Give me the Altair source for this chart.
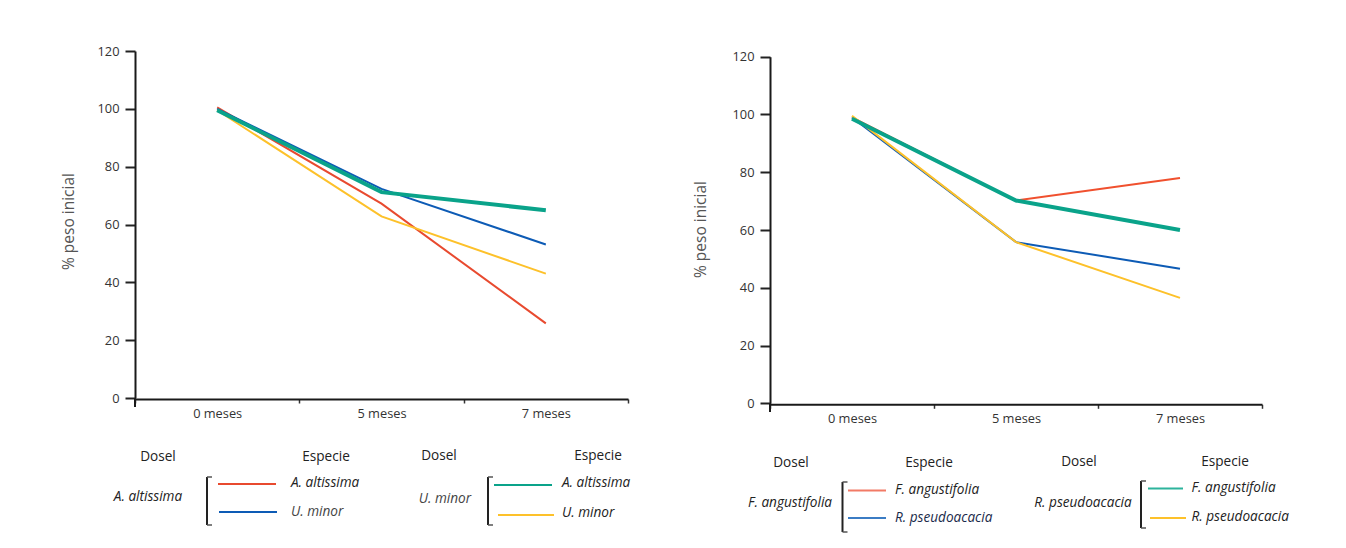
import altair as alt
import pandas as pd

# ---------------- data ----------------
meses = ["0 meses", "5 meses", "7 meses"]

# Left panel (Dosel: A. altissima / U. minor)
izq_aa_aa = [100.5, 67.2, 25.8]   # Dosel A. altissima, especie A. altissima
izq_aa_um = [100.0, 72.3, 53.1]   # Dosel A. altissima, especie U. minor
izq_um_aa = [99.5, 71.2, 64.9]    # Dosel U. minor, especie A. altissima
izq_um_um = [99.5, 62.8, 43.0]    # Dosel U. minor, especie U. minor

# Right panel (Dosel: F. angustifolia / R. pseudoacacia)
der_fa_fa = [99.0, 70.2, 78.0]
der_fa_rp = [99.0, 55.8, 46.6]
der_rp_fa = [98.5, 70.2, 60.0]
der_rp_rp = [99.5, 55.8, 36.5]

y_ticks = [0, 20, 40, 60, 80, 100, 120]
y_title = "% peso inicial"
hdr_dosel = "Dosel"
hdr_especie = "Especie"
dosel_izq = ["A. altissima", "U. minor"]
especie_izq = ["A. altissima", "U. minor"]
dosel_der = ["F. angustifolia", "R. pseudoacacia"]
especie_der = ["F. angustifolia", "R. pseudoacacia"]

RED = "#E84A2F"
BLUE = "#0D5BB5"
TEAL = "#0AA38A"
YELLOW = "#FDC12A"
INK = "#222222"
FONT = "Open Sans"
LEG_SIZE = 13.6

W, H = 1330, 526
dummy = pd.DataFrame({"k": [0]})


def make_axes(xrange_, yrange_, x_axis_y, y_axis_x, title_x, title_y):
    xs = alt.Scale(type="band", domain=meses, range=xrange_, paddingInner=0, paddingOuter=0)
    ys = alt.Scale(domain=[0, 120], range=yrange_, nice=False, zero=True)
    xa = alt.Axis(orient="bottom", offset=x_axis_y - H, title=None, tickBand="extent",
                  labelAngle=0, tickSize=4, tickWidth=1.5, tickColor="#333333",
                  domainColor="#1a1a1a", domainWidth=2, labelPadding=4,
                  labelFont=FONT, labelFontSize=12.8, labelColor="#333333", grid=False)
    ya = alt.Axis(orient="left", offset=-y_axis_x, values=y_ticks, title=y_title,
                  titleX=title_x - y_axis_x, titleY=title_y, titleAngle=-90,
                  titleBaseline="middle", titleAlign="center", titleFont=FONT,
                  titleFontSize=15.5, titleFontWeight="normal", titleColor="#555555",
                  tickSize=10, tickWidth=2, tickColor="#222222", domainColor="#1a1a1a",
                  domainWidth=2, labelPadding=6, labelFont=FONT, labelFontSize=12.8,
                  labelColor="#333333", grid=False)
    return xs, ys, xa, ya


def series(vals, color, width, xs, ys, xa, ya):
    df = pd.DataFrame({"mes": meses, "valor": vals})
    return alt.Chart(df).mark_line(color=color, strokeWidth=width, strokeCap="butt").encode(
        x=alt.X("mes:N", scale=xs, axis=xa, bandPosition=0.5, sort=meses),
        y=alt.Y("valor:Q", scale=ys, axis=ya),
    )


# left panel
xsL, ysL, xaL, yaL = make_axes([127, 620], [390, 43], 391, 127, 60, 213)
left = alt.layer(
    series(izq_aa_aa, RED, 2, xsL, ysL, xaL, yaL),
    series(izq_aa_um, BLUE, 2, xsL, ysL, xaL, yaL),
    series(izq_um_um, YELLOW, 2, xsL, ysL, xaL, yaL),
    series(izq_um_aa, TEAL, 4, xsL, ysL, xaL, yaL),
)

# right panel
xsR, ysR, xaR, yaR = make_axes([762, 1254], [395.3, 48.7], 396.3, 762, 692, 221)
right = alt.layer(
    series(der_fa_fa, "#F0502E", 2, xsR, ysR, xaR, yaR),
    series(der_fa_rp, BLUE, 2, xsR, ysR, xaR, yaR),
    series(der_rp_rp, YELLOW, 2, xsR, ysR, xaR, yaR),
    series(der_rp_fa, TEAL, 4, xsR, ysR, xaR, yaR),
)


# ---------------- decorations (custom legend) ----------------
def rule(x1, y1, x2, y2, color=INK, w=2):
    return alt.Chart(dummy).mark_rule(color=color, strokeWidth=w).encode(
        x=alt.value(x1), x2=alt.value(x2), y=alt.value(y1), y2=alt.value(y2))


def txt(s, x, y, align="center", italic=False, color=INK, size=LEG_SIZE):
    return alt.Chart(dummy).mark_text(
        text=s, align=align, baseline="middle", font=FONT, fontSize=size,
        fontStyle="italic" if italic else "normal", color=color).encode(
        x=alt.value(x), y=alt.value(y))


def bracket(x, y1, y2):
    return [rule(x, y1, x, y2, INK, 2),
            rule(x, y1, x + 5, y1, "#555555", 1.5),
            rule(x, y2, x + 5, y2, "#555555", 1.5)]


deco = []
# axis extensions below x-axis
deco.append(rule(127, 390, 127, 399, "#1a1a1a", 2))
deco.append(rule(762, 395, 762, 404, "#1a1a1a", 2))

# left legend, block 1
deco += [txt(hdr_dosel, 150, 449), txt(hdr_especie, 318, 449),
         txt(dosel_izq[0], 140, 489, italic=True)]
deco += bracket(199, 469, 517)
deco += [rule(210, 476, 268, 476, RED, 2), txt(especie_izq[0], 283, 475, "left", True),
         rule(211, 504, 269, 504, BLUE, 2), txt(especie_izq[1], 283, 504, "left", True, "#444444")]
# left legend, block 2
deco += [txt(hdr_dosel, 431, 448), txt(hdr_especie, 590, 448),
         txt(dosel_izq[1], 437, 491, italic=True, color="#444444")]
deco += bracket(480, 469, 517)
deco += [rule(486, 477, 544, 477, TEAL, 2), txt(especie_izq[0], 554, 475, "left", True),
         rule(490, 507, 546, 507, YELLOW, 2), txt(especie_izq[1], 554, 505, "left", True)]

# right legend, block 1
deco += [txt(hdr_dosel, 783, 455), txt(hdr_especie, 921, 455),
         txt(dosel_der[0], 782, 495, italic=True)]
deco += bracket(834.5, 474, 524)
deco += [rule(840, 482.5, 878, 482.5, "#F27A66", 2), txt(especie_der[0], 887, 482, "left", True),
         rule(840, 510, 878, 510, "#3B7CC4", 2), txt(especie_der[1], 887, 510, "left", True, "#1a2a4a")]
# right legend, block 2
deco += [txt(hdr_dosel, 1071, 454), txt(hdr_especie, 1217, 454),
         txt(dosel_der[1], 1075, 495, italic=True)]
deco += bracket(1133, 473, 520)
deco += [rule(1140, 480.5, 1175, 480.5, "#2DB39C", 2), txt(especie_der[0], 1183.5, 480, "left", True),
         rule(1142, 510, 1178, 510, YELLOW, 2), txt(especie_der[1], 1183.5, 509, "left", True)]

chart = alt.layer(left, right, *deco).resolve_scale(
    x="independent", y="independent"
).properties(
    width=W, height=H, autosize=alt.AutoSizeParams(type="none"), padding=0,
    background="white",
).configure_view(stroke=None)

chart.save("out.html", embed_options={"renderer": "svg", "actions": False})
